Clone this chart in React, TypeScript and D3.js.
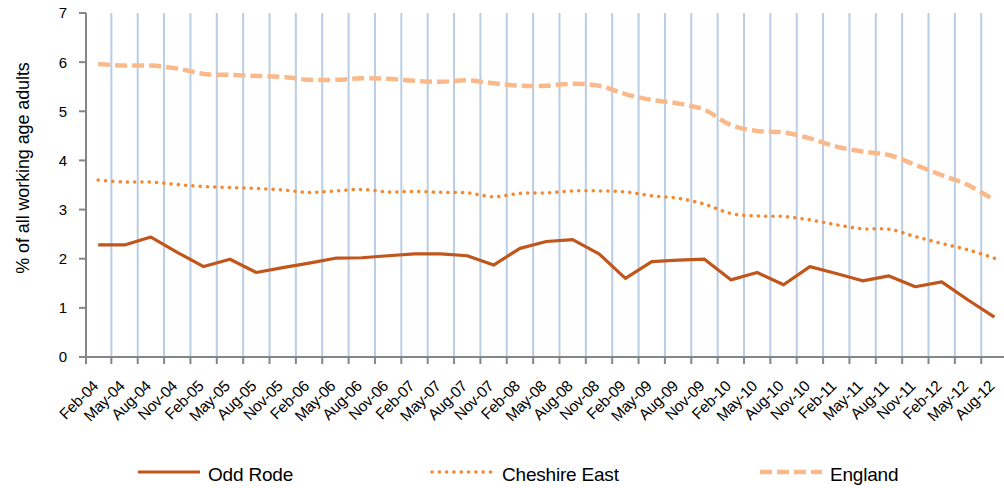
import React, { useEffect, useRef } from "react";
import * as d3 from "d3";

const categories = [
  "Feb-04", "May-04", "Aug-04", "Nov-04",
  "Feb-05", "May-05", "Aug-05", "Nov-05",
  "Feb-06", "May-06", "Aug-06", "Nov-06",
  "Feb-07", "May-07", "Aug-07", "Nov-07",
  "Feb-08", "May-08", "Aug-08", "Nov-08",
  "Feb-09", "May-09", "Aug-09", "Nov-09",
  "Feb-10", "May-10", "Aug-10", "Nov-10",
  "Feb-11", "May-11", "Aug-11", "Nov-11",
  "Feb-12", "May-12", "Aug-12",
];

const oddRode = [
  2.28, 2.28, 2.44, 2.13, 1.84, 1.99, 1.72, 1.82, 1.91, 2.01,
  2.02, 2.06, 2.1, 2.1, 2.06, 1.87, 2.21, 2.35, 2.39, 2.1,
  1.6, 1.94, 1.97, 1.99, 1.57, 1.72, 1.47, 1.84, 1.7, 1.55,
  1.65, 1.43, 1.53, 1.16, 0.81,
];

const cheshireEast = [
  3.6, 3.56, 3.56, 3.51, 3.47, 3.45, 3.43, 3.4, 3.35, 3.38,
  3.41, 3.36, 3.37, 3.35, 3.34, 3.26, 3.33, 3.34, 3.38, 3.38,
  3.36, 3.28, 3.23, 3.11, 2.92, 2.87, 2.86, 2.79, 2.69, 2.61,
  2.6, 2.45, 2.31, 2.18, 2.01,
];

const england = [
  5.96, 5.93, 5.93, 5.87, 5.76, 5.74, 5.72, 5.7, 5.64, 5.64,
  5.67, 5.66, 5.62, 5.6, 5.63, 5.57, 5.52, 5.52, 5.56, 5.52,
  5.35, 5.23, 5.16, 5.03, 4.72, 4.6, 4.57, 4.45, 4.28, 4.18,
  4.11, 3.91, 3.7, 3.5, 3.19,
];

const yTicks = [0, 1, 2, 3, 4, 5, 6, 7];

const FONT = "'Liberation Sans', Arial, sans-serif";

const App: React.FC = () => {
  const svgRef = useRef<SVGSVGElement>(null);

  useEffect(() => {
    if (!svgRef.current) return;
    const svg = d3.select(svgRef.current);
    svg.selectAll("*").remove();

    const width = 1004;
    const height = 488;
    const left = 85;
    const step = 26.36;
    const top = 13;
    const bottom = 357;

    svg.attr("width", width).attr("height", height);

    const x = d3
      .scaleBand<string>()
      .domain(categories)
      .range([left, left + step * categories.length])
      .paddingInner(0)
      .paddingOuter(0);

    const y = d3.scaleLinear().domain([0, 7]).range([bottom, top]);

    const cx = (i: number) => (x(categories[i]) as number) + x.bandwidth() / 2;

    // vertical gridlines at category boundaries
    svg
      .append("g")
      .selectAll("line")
      .data(categories.slice(1))
      .join("line")
      .attr("x1", (d) => x(d) as number)
      .attr("x2", (d) => x(d) as number)
      .attr("y1", y(7))
      .attr("y2", y(0))
      .attr("stroke", "#b9cde5")
      .attr("stroke-width", 2);

    // axes
    const axisColor = "#868686";
    svg
      .append("line")
      .attr("x1", left + 1)
      .attr("x2", left + 1)
      .attr("y1", y(7))
      .attr("y2", y(0))
      .attr("stroke", axisColor)
      .attr("stroke-width", 2);

    svg
      .append("line")
      .attr("x1", left)
      .attr("x2", width)
      .attr("y1", y(0))
      .attr("y2", y(0))
      .attr("stroke", axisColor)
      .attr("stroke-width", 2);

    // y ticks
    const yg = svg.append("g");
    yTicks.forEach((t) => {
      yg.append("line")
        .attr("x1", left - 6)
        .attr("x2", left + 1)
        .attr("y1", y(t))
        .attr("y2", y(t))
        .attr("stroke", axisColor)
        .attr("stroke-width", 2);
      yg.append("text")
        .attr("x", 67)
        .attr("y", y(t))
        .attr("dy", "0.36em")
        .attr("text-anchor", "end")
        .style("font-family", FONT)
        .style("font-size", "15px")
        .style("fill", "#000")
        .text(t);
    });

    // x ticks + labels
    const xg = svg.append("g");
    categories.forEach((c, i) => {
      const bx = x(c) as number;
      xg.append("line")
        .attr("x1", i === 0 ? left + 1 : bx)
        .attr("x2", i === 0 ? left + 1 : bx)
        .attr("y1", y(0))
        .attr("y2", y(0) + 7)
        .attr("stroke", axisColor)
        .attr("stroke-width", 2);
      const lx = cx(i) + 1;
      const ly = y(0) + 30;
      xg.append("text")
        .attr("transform", `translate(${lx},${ly}) rotate(-45)`)
        .attr("text-anchor", "end")
        .style("font-family", FONT)
        .style("font-size", "15.5px")
        .style("letter-spacing", "-0.3px")
        .style("fill", "#000")
        .text(c);
    });

    // y axis title
    svg
      .append("text")
      .attr("transform", `translate(23,168) rotate(-90)`)
      .attr("text-anchor", "middle")
      .attr("dy", "0.35em")
      .style("font-family", FONT)
      .style("font-size", "18px")
      .style("letter-spacing", "-0.1px")
      .style("fill", "#000")
      .text("% of all working age adults");

    const series = [
      { name: "Odd Rode", values: oddRode, color: "#c0561c", width: 3.2, dash: null as string | null, cap: "butt", curve: d3.curveLinear },
      { name: "Cheshire East", values: cheshireEast, color: "#f5882e", width: 3.5, dash: "0.1 7.2", cap: "round", curve: d3.curveCatmullRom.alpha(0.5) },
      { name: "England", values: england, color: "#fab98b", width: 4.5, dash: "12 5", cap: "butt", curve: d3.curveCatmullRom.alpha(0.5) },
    ];

    const plot = svg.append("g");
    series
      .slice()
      .reverse()
      .forEach((s) => {
        const line = d3
          .line<number>()
          .x((_, i) => cx(i))
          .y((d) => y(d))
          .curve(s.curve);
        const p = plot
          .append("path")
          .attr("d", line(s.values) || "")
          .attr("fill", "none")
          .attr("stroke", s.color)
          .attr("stroke-width", s.width)
          .attr("stroke-linecap", s.cap)
          .attr("stroke-linejoin", "round");
        if (s.dash) p.attr("stroke-dasharray", s.dash);
      });

    // legend
    const legendX = [138, 432, 760];
    const legendY = 472;
    series.forEach((s, i) => {
      const g = svg.append("g");
      const l = g
        .append("line")
        .attr("x1", legendX[i])
        .attr("x2", legendX[i] + 62)
        .attr("y1", legendY)
        .attr("y2", legendY)
        .attr("stroke", s.color)
        .attr("stroke-width", s.width)
        .attr("stroke-linecap", s.cap);
      if (s.dash) l.attr("stroke-dasharray", s.dash);
      g.append("text")
        .attr("x", legendX[i] + 70)
        .attr("y", 481)
        .style("font-family", FONT)
        .style("font-size", "19px")
        .style("letter-spacing", "-0.2px")
        .style("fill", "#000")
        .text(s.name);
    });
  }, []);

  return (
    <div style={{ position: "absolute", left: 0, top: 0, width: 1004, height: 488, background: "#fff" }}>
      <svg ref={svgRef} style={{ display: "block" }}></svg>
    </div>
  );
};

export default App;
